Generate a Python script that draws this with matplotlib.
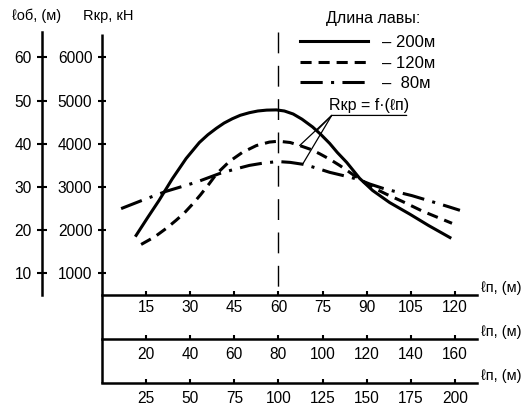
import matplotlib
matplotlib.use('Agg')
import matplotlib.pyplot as plt
import numpy as np

plt.rcParams['font.family'] = ['Liberation Sans', 'DejaVu Sans']
plt.rcParams['lines.scale_dashes'] = False

# x is read on the first l_p scale (15..120 m), R in kN
sol_x = [11.6, 15.5, 19.4, 23.9, 28.6, 33.1, 36, 38.9, 41.5, 44.3, 47, 50.1, 53, 56, 59.3,
         62, 65, 68, 71.6, 74.5, 77.4, 80, 83.2, 87.6, 92, 97.8, 104.7, 111, 118.3]
sol_r = [1880, 2290, 2690, 3190, 3660, 4030, 4210, 4360, 4480, 4580, 4660, 4720, 4760, 4780,
         4785, 4760, 4690, 4570, 4390, 4210, 4010, 3800, 3570, 3200, 2920, 2640, 2370, 2110, 1830]

dsh_x = [13.3, 18, 22.2, 25.2, 28, 31, 33.5, 36.5, 38.9, 43.3, 47.7, 52.5, 56.9, 60, 64,
         67.2, 71, 74, 77.5, 80.8, 84, 87.6, 92, 96.8, 102, 109, 114, 119]
dsh_r = [1670, 1850, 2060, 2230, 2400, 2620, 2820, 3080, 3300, 3590, 3800, 3960, 4040, 4060,
         4030, 3960, 3870, 3770, 3640, 3500, 3350, 3180, 2990, 2830, 2670, 2440, 2300, 2160]

dd_x = [6.5, 13.6, 21.8, 32, 39.9, 45, 50.1, 54.5, 59.7, 64, 68.9, 73.3, 77.4, 82, 87, 91,
        95.5, 100, 105.4, 109.8, 114.2, 118, 121.7]
dd_r = [2500, 2690, 2900, 3110, 3310, 3410, 3500, 3550, 3590, 3570, 3520, 3430, 3340, 3265,
        3180, 3070, 2970, 2890, 2800, 2710, 2620, 2540, 2460]

lava_labels = ['– 200м', '– 120м', '–  80м']
ticks_1 = [15, 30, 45, 60, 75, 90, 105, 120]
ticks_2 = [20, 40, 60, 80, 100, 120, 140, 160]
ticks_3 = [25, 50, 75, 100, 125, 150, 175, 200]
r_ticks = [1000, 2000, 3000, 4000, 5000, 6000]
lob_ticks = [10, 20, 30, 40, 50, 60]
x_center = 60

W, H = 526, 405
fig = plt.figure(figsize=(W / 100, H / 100), dpi=100)
ax = fig.add_axes([102 / W, 1 - 295 / H, 375 / W, 263.5 / H])
ax.set_xlim(0, 127.5)
ax.set_ylim(500, 6600)

for s in ['top', 'right', 'left']:
    ax.spines[s].set_visible(False)
ax.spines['bottom'].set_linewidth(1.8)
# R axis line, running down past the three l_p scales
ax.plot([0, 0], [-88 / 263.5, 0.99], transform=ax.transAxes, color='k', lw=1.8,
        clip_on=False, solid_capstyle='butt')

lw = 2.2
l1, = ax.plot(sol_x, sol_r, color='k', lw=lw)
l2, = ax.plot(dsh_x, dsh_r, color='k', lw=lw, dashes=(8, 5))
l3, = ax.plot(dd_x, dd_r, color='k', lw=lw, dashes=(16, 6, 2.2, 6))
# centre line, dash pattern starting from the top
ax.axvline(x_center, ymin=1.0, ymax=0.0, color='k', lw=1, dashes=(15, 9), clip_on=False)

fs = 11.2
ax.set_xticks(ticks_1)
ax.tick_params(axis='x', direction='in', length=3, width=1.5, pad=3.5, labelsize=fs)
ax.set_yticks(r_ticks)
ax.tick_params(axis='y', direction='inout', length=6, width=1.5, pad=4, labelsize=fs)

sec2 = ax.secondary_xaxis(-44 / 263.5, functions=(lambda x: x * 4 / 3, lambda x: x * 3 / 4))
sec3 = ax.secondary_xaxis(-88 / 263.5, functions=(lambda x: x * 5 / 3, lambda x: x * 3 / 5))
for sec, tk in [(sec2, ticks_2), (sec3, ticks_3)]:
    sec.set_xticks(tk)
    sec.spines['bottom'].set_linewidth(1.8)
    sec.tick_params(axis='x', direction='in', length=3, width=1.5, pad=5.5, labelsize=fs)

secy = ax.secondary_yaxis(-60 / 375, functions=(lambda r: r / 100, lambda v: v * 100))
secy.set_yticks(lob_ticks)
secy.spines['left'].set_linewidth(1.8)
secy.tick_params(axis='y', direction='inout', length=7, width=1.5, pad=4, labelsize=fs)

fig.text(37 / W, 1 - 16 / H, 'ℓоб, (м)', ha='center', va='center', fontsize=10.5)
fig.text(108 / W, 1 - 16 / H, 'Rкр, кН', ha='center', va='center', fontsize=10.5)
for yy in [288, 332, 376]:
    fig.text(481 / W, 1 - yy / H, 'ℓп, (м)', ha='left', va='center', fontsize=10.5)

fig.text(373 / W, 1 - 18 / H, 'Длина лавы:', ha='center', va='center', fontsize=11.5)
leg = ax.legend([l1, l2, l3], lava_labels, frameon=False,
                loc='upper left', bbox_to_anchor=(300 / W, 1 - 35 / H),
                bbox_transform=fig.transFigure, fontsize=12,
                handlelength=4.1, handletextpad=0.85, labelspacing=0.33,
                borderaxespad=0, borderpad=0)

# label with leaders to the three curves
anchor_x, anchor_r = 78.1, 4657
ax.text(90.8, anchor_r + 50, 'Rкр = f·(ℓп)', ha='center', va='bottom', fontsize=11.5)
ax.annotate('', xy=(103.6, anchor_r), xytext=(anchor_x, anchor_r),
            arrowprops=dict(arrowstyle='-', lw=0.9, shrinkA=0, shrinkB=0))
for cx, cy, tx in [(sol_x, sol_r, 73.0), (dsh_x, dsh_r, 67.2), (dd_x, dd_r, 68.2)]:
    ax.annotate('', xy=(tx, np.interp(tx, cx, cy)), xytext=(anchor_x, anchor_r),
                arrowprops=dict(arrowstyle='-', lw=0.9, shrinkA=0, shrinkB=0))

fig.savefig('out.png', dpi=100)
